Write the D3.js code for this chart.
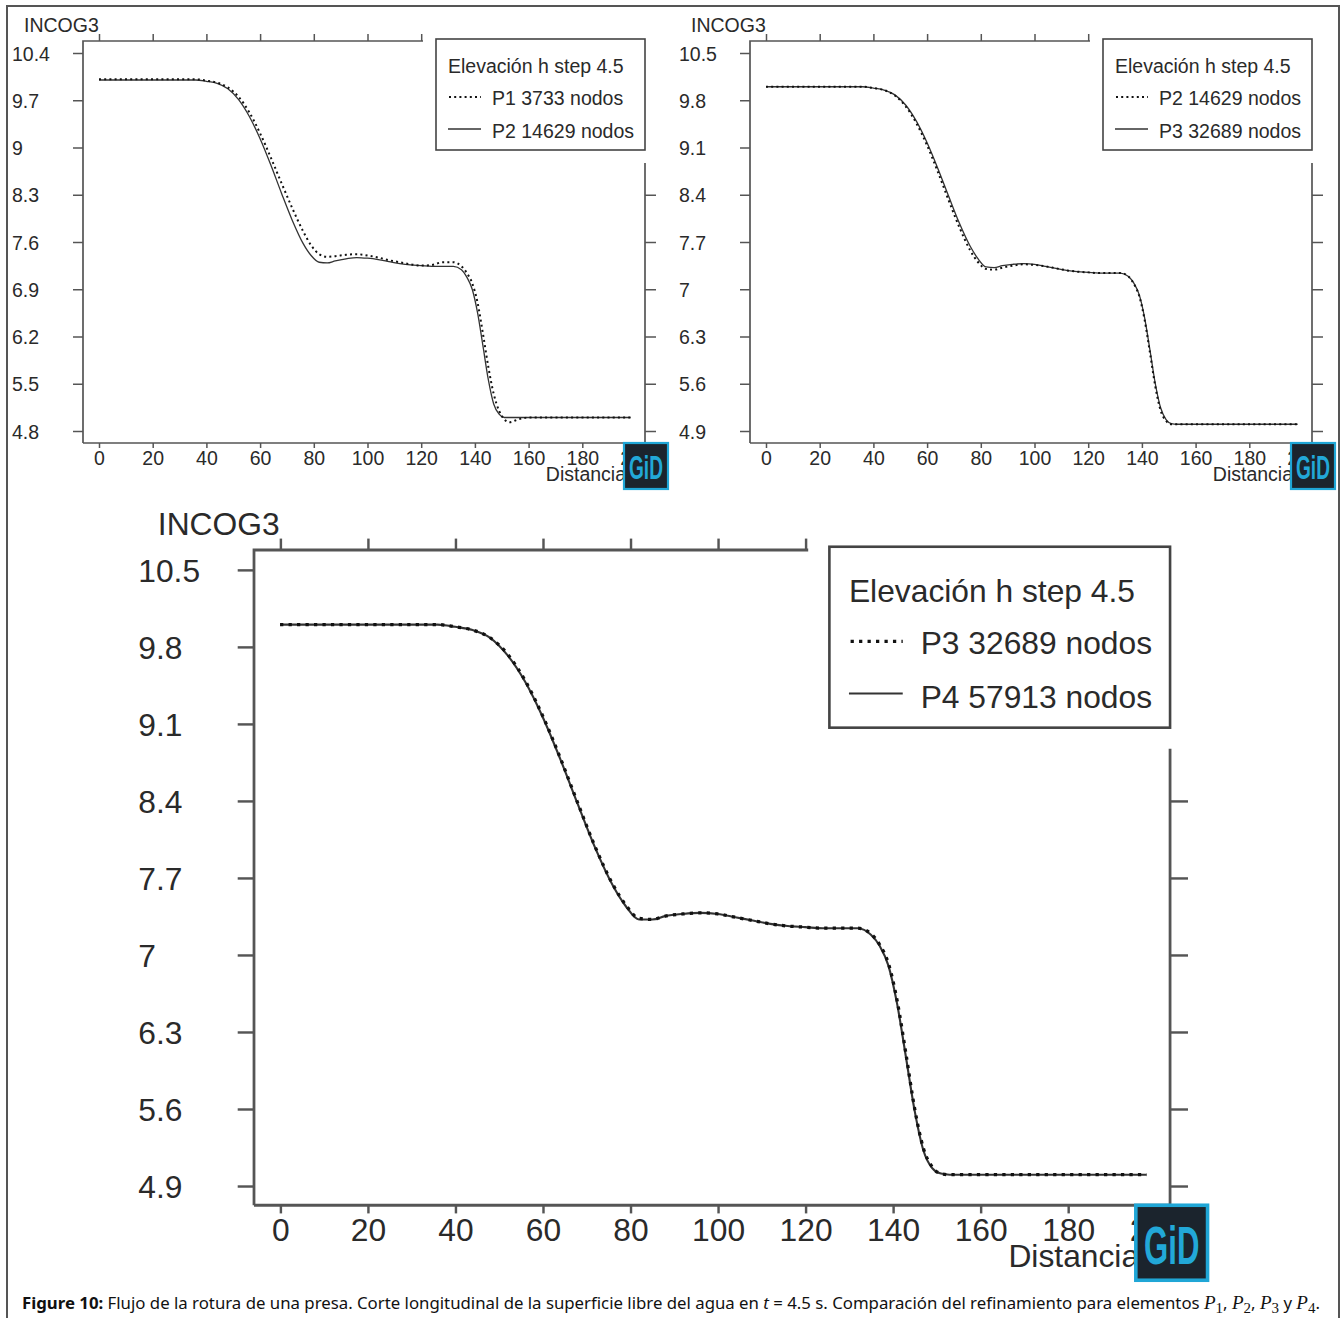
<!DOCTYPE html>
<html>
<head>
<meta charset="utf-8">
<script src="https://cdn.jsdelivr.net/npm/d3@7"></script>
<style>
  body { margin: 0; background: #fff; }
  svg text { fill: #2a2a2a; }
</style>
</head>
<body>
<svg id="fig" width="1344" height="1318"></svg>
<script>
// values (Distancia vs INCOG3 elevation at t = 4.5 s)
var distancia = [0, 10, 20, 30, 36, 40, 44, 48, 52, 56, 60, 64, 68, 72, 76, 79, 82, 85, 88, 92, 96, 100,
                 104, 108, 112, 116, 120, 124, 128, 132, 135, 137, 139, 141, 143, 145, 147, 149, 151, 153,
                 156, 160, 170, 180, 190, 198];

var p1 = [10.01, 10.01, 10.01, 10.01, 10.01, 9.99, 9.96, 9.89, 9.75, 9.52, 9.21, 8.85, 8.47, 8.10, 7.76, 7.55, 7.42, 7.38, 7.39, 7.41, 7.42, 7.40,
          7.37, 7.33, 7.30, 7.27, 7.25, 7.26, 7.30, 7.30, 7.24, 7.14, 6.99, 6.70, 6.24, 5.75, 5.35, 5.10, 4.97, 4.93,
          4.97, 5.00, 5.00, 5.00, 5.00, 5.00];
var p2 = [10.0, 10.0, 10.0, 10.0, 10.0, 9.98, 9.95, 9.87, 9.71, 9.46, 9.13, 8.74, 8.32, 7.92, 7.58, 7.40, 7.30, 7.29, 7.32, 7.35, 7.37, 7.36,
          7.34, 7.31, 7.28, 7.26, 7.25, 7.24, 7.24, 7.24, 7.19, 7.08, 6.90, 6.55, 6.06, 5.56, 5.20, 5.05, 5.00, 5.00,
          5.00, 5.00, 5.00, 5.00, 5.00, 5.00];
var p3 = [10.0, 10.0, 10.0, 10.0, 10.0, 9.98, 9.95, 9.88, 9.73, 9.49, 9.17, 8.79, 8.38, 7.98, 7.64, 7.45, 7.33, 7.32, 7.35, 7.37, 7.38, 7.37,
          7.34, 7.31, 7.28, 7.26, 7.25, 7.24, 7.24, 7.24, 7.19, 7.09, 6.92, 6.58, 6.10, 5.60, 5.24, 5.07, 5.01, 5.00,
          5.00, 5.00, 5.00, 5.00, 5.00, 5.00];
var p4 = [10.0, 10.0, 10.0, 10.0, 10.0, 9.98, 9.95, 9.88, 9.72, 9.48, 9.16, 8.78, 8.37, 7.97, 7.63, 7.44, 7.32, 7.32, 7.35, 7.37, 7.38, 7.37,
          7.34, 7.31, 7.28, 7.26, 7.25, 7.24, 7.24, 7.24, 7.18, 7.08, 6.90, 6.55, 6.07, 5.58, 5.22, 5.06, 5.01, 5.00,
          5.00, 5.00, 5.00, 5.00, 5.00, 5.00];

var xTicks = [0, 20, 40, 60, 80, 100, 120, 140, 160, 180, 200];
var xTopTicks = [0, 20, 40, 60, 80, 100, 120];
var yTicksA = [10.4, 9.7, 9, 8.3, 7.6, 6.9, 6.2, 5.5, 4.8];
var yTicksB = [10.5, 9.8, 9.1, 8.4, 7.7, 7, 6.3, 5.6, 4.9];
var legendTitle = "Elevación h step 4.5";

var svg = d3.select("#fig");
var FONT = "'Liberation Sans', Arial, Helvetica, sans-serif";

// outer frame
svg.append("rect")
  .attr("x", 7).attr("y", 6).attr("width", 1332).attr("height", 1340)
  .attr("fill", "none").attr("stroke", "#555").attr("stroke-width", 2);

var panels = [
  {ox: 83,  oy: 41,  k: 1,    yTicks: yTicksA, dotted: p1, solid: p2, names: ["P1 3733 nodos", "P2 14629 nodos"]},
  {ox: 750, oy: 41,  k: 1,    yTicks: yTicksB, dotted: p2, solid: p3, names: ["P2 14629 nodos", "P3 32689 nodos"]},
  {ox: 254, oy: 550, k: 1.63, yTicks: yTicksB, dotted: p3, solid: p4, names: ["P3 32689 nodos", "P4 57913 nodos"]}
];

function drawPanel(p) {
  var g = svg.append("g")
    .attr("transform", "translate(" + p.ox + "," + p.oy + ") scale(" + p.k + ")")
    .attr("font-family", FONT);

  var x = d3.scaleLinear().domain([0, 200]).range([16, 553]);
  var y = d3.scaleLinear()
    .domain([p.yTicks[p.yTicks.length - 1], p.yTicks[0]])
    .range([390, 12]);

  // frame lines
  var frameCol = "#555", frameW = 1.7;
  g.append("path").attr("d", "M0,402V0H340")
    .attr("fill", "none").attr("stroke", frameCol).attr("stroke-width", frameW);
  g.append("path").attr("d", "M0,402H562")
    .attr("fill", "none").attr("stroke", frameCol).attr("stroke-width", frameW);
  g.append("path").attr("d", "M562,122V402")
    .attr("fill", "none").attr("stroke", frameCol).attr("stroke-width", frameW);

  // left axis
  var gl = g.append("g").call(d3.axisLeft(y).tickValues(p.yTicks).tickSize(10).tickSizeOuter(0)
    .tickFormat(function(d){ return String(d); }));
  gl.select(".domain").remove();
  gl.selectAll(".tick line").attr("stroke", frameCol).attr("stroke-width", 1.5);
  gl.selectAll(".tick text")
    .attr("x", -71).attr("dy", "0.36em").attr("text-anchor", "start")
    .attr("font-size", 19.5).attr("font-family", FONT).attr("fill", "#2a2a2a");

  // right axis (only below the legend)
  var gr = g.append("g").attr("transform", "translate(562,0)")
    .call(d3.axisRight(y).tickValues(p.yTicks.slice(3)).tickSize(11).tickSizeOuter(0).tickFormat(""));
  gr.select(".domain").remove();
  gr.selectAll(".tick line").attr("stroke", frameCol).attr("stroke-width", 1.5);

  // top axis
  var gt = g.append("g")
    .call(d3.axisTop(x).tickValues(xTopTicks).tickSize(7).tickSizeOuter(0).tickFormat(""));
  gt.select(".domain").remove();
  gt.selectAll(".tick line").attr("stroke", frameCol).attr("stroke-width", 1.5);

  // bottom axis
  var gb = g.append("g").attr("transform", "translate(0,402)")
    .call(d3.axisBottom(x).tickValues(xTicks).tickSize(5).tickSizeOuter(0)
      .tickFormat(function(d){ return String(d); }));
  gb.select(".domain").remove();
  gb.selectAll(".tick line").attr("stroke", frameCol).attr("stroke-width", 1.5);
  gb.selectAll(".tick text")
    .attr("y", 22).attr("dy", 0)
    .attr("font-size", 19.5).attr("font-family", FONT).attr("fill", "#2a2a2a");

  // axis names
  g.append("text").attr("x", -59).attr("y", -9)
    .attr("font-size", 19.5).text("INCOG3");
  g.append("text").attr("x", 543).attr("y", 440).attr("text-anchor", "end")
    .attr("font-size", 19.5).text("Distancia");

  // curves
  var line = d3.line()
    .x(function(d, i){ return x(distancia[i]); })
    .y(function(d){ return y(d); })
    .curve(d3.curveMonotoneX);

  g.append("path").datum(p.solid).attr("d", line)
    .attr("fill", "none").attr("stroke", "#333").attr("stroke-width", 1.3);
  g.append("path").datum(p.dotted).attr("d", line)
    .attr("fill", "none").attr("stroke", "#111").attr("stroke-width", 2)
    .attr("stroke-dasharray", "2,3.2");

  // legend
  var lg = g.append("g");
  lg.append("rect").attr("x", 353).attr("y", -2).attr("width", 209).attr("height", 111)
    .attr("fill", "#fff").attr("stroke", "#444").attr("stroke-width", 1.6);
  lg.append("text").attr("x", 365).attr("y", 32).attr("font-size", 19.5).text(legendTitle);
  lg.append("line").attr("x1", 366).attr("x2", 398).attr("y1", 56).attr("y2", 56)
    .attr("stroke", "#111").attr("stroke-width", 2).attr("stroke-dasharray", "2,3.2");
  lg.append("text").attr("x", 409).attr("y", 64).attr("font-size", 19.5).text(p.names[0]);
  lg.append("line").attr("x1", 365).attr("x2", 398).attr("y1", 88).attr("y2", 88)
    .attr("stroke", "#333").attr("stroke-width", 1.3);
  lg.append("text").attr("x", 409).attr("y", 97).attr("font-size", 19.5).text(p.names[1]);

  // GiD badge
  var logo = g.append("g").attr("transform", "translate(541,402)");
  logo.append("rect").attr("x", 0).attr("y", 0).attr("width", 44).attr("height", 46)
    .attr("fill", "#1b242d").attr("stroke", "#1fa6d6").attr("stroke-width", 2.2);
  logo.append("text").attr("x", 5).attr("y", 36)
    .attr("font-size", 33).attr("font-weight", "bold")
    .attr("font-family", "'Liberation Sans Narrow', 'Liberation Sans', Arial, sans-serif")
    .attr("textLength", 34).attr("lengthAdjust", "spacingAndGlyphs")
    .style("fill", "#22a8d8").text("GiD");
}

panels.forEach(drawPanel);

// caption
var cap = svg.append("text").attr("x", 22).attr("y", 1309)
  .attr("font-family", "'Noto Sans', 'Open Sans', sans-serif").attr("font-size", 16.8)
  .style("fill", "#111");
cap.append("tspan").attr("font-weight", "bold").text("Figure 10:");
cap.append("tspan").text(" Flujo de la rotura de una presa. Corte longitudinal de la superficie libre del agua en ");
cap.append("tspan").attr("font-style", "italic").text("t");
cap.append("tspan").text(" = 4.5 s. Comparación del refinamiento para elementos ");
var subs = ["1", "2", "3", "4"];
var seps = [", ", ", ", " y ", "."];
subs.forEach(function(s, i){
  cap.append("tspan").attr("font-family", "'Liberation Serif', serif").attr("font-style", "italic")
    .attr("font-size", 19).text("P");
  cap.append("tspan").attr("font-family", "'Liberation Serif', serif").attr("font-size", 15)
    .attr("dy", 4).text(s);
  cap.append("tspan").attr("dy", -4).text(seps[i]);
});
</script>
</body>
</html>
